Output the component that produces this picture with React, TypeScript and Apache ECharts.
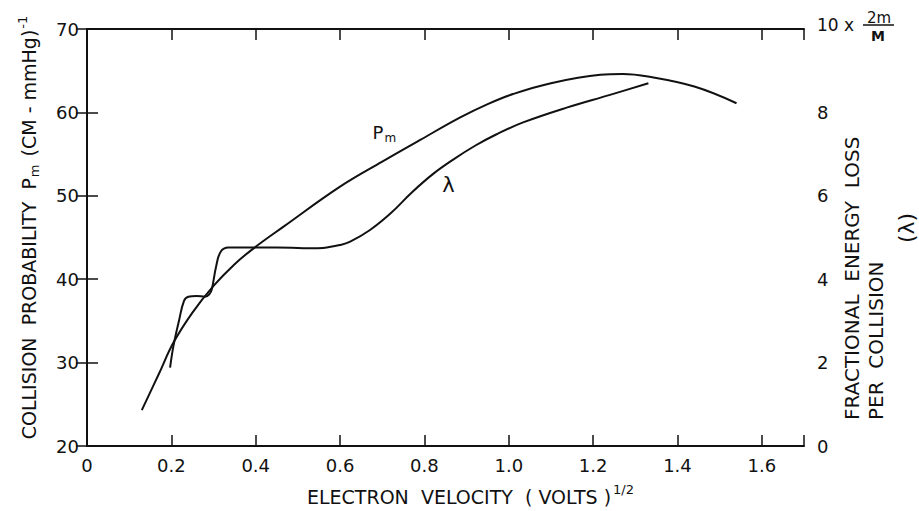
import React, { useEffect, useRef } from "react";
import * as echarts from "echarts";

// x ticks (electron velocity, volts^1/2)
const xTicks = [0, 0.2, 0.4, 0.6, 0.8, 1.0, 1.2, 1.4, 1.6];
// left axis ticks (collision probability)
const leftTicks = [20, 30, 40, 50, 60, 70];
// right axis ticks (fractional energy loss, units of 2m/M)
const rightTicks = [0, 2, 4, 6, 8, 10];

// P_m curve
const pmX = [0.13, 0.17, 0.205, 0.25, 0.3, 0.35, 0.395, 0.466, 0.6, 0.7, 0.79, 0.885, 0.95, 1.01, 1.1, 1.217, 1.27, 1.33, 1.44, 1.54];
const pmY = [24.3, 28.6, 32.4, 36.0, 39.2, 41.8, 43.7, 46.3, 51.1, 54.1, 56.7, 59.4, 61.0, 62.2, 63.5, 64.5, 64.6, 64.3, 63.1, 61.1];

// lambda curve (right axis)
const lamX = [0.197, 0.205, 0.218, 0.23, 0.24, 0.26, 0.28, 0.29, 0.296, 0.306, 0.317, 0.335, 0.4, 0.45, 0.5, 0.53, 0.56, 0.6, 0.624, 0.671, 0.72, 0.77, 0.82, 0.87, 0.92, 0.97, 1.034, 1.139, 1.24, 1.331];
const lamY = [1.88, 2.4, 3.0, 3.48, 3.58, 3.6, 3.58, 3.64, 3.76, 4.3, 4.66, 4.76, 4.76, 4.76, 4.75, 4.74, 4.75, 4.82, 4.9, 5.18, 5.58, 6.08, 6.52, 6.88, 7.2, 7.47, 7.76, 8.12, 8.42, 8.7];

// curve label anchors (data coords)
const pmLabelAt = [0.705, 57.6];
const lamLabelAt = [0.857, 51.3];

const FONT = "DejaVu Sans";
const INK = "#111";
const W = 919;
const H = 511;
const GRID = { left: 87, right: 115, top: 29, bottom: 61 };

export default function App() {
  const ref = useRef<HTMLDivElement>(null);
  useEffect(() => {
    document.body.style.margin = "0";
    const chart = echarts.init(ref.current as HTMLDivElement, null, { renderer: "svg", width: W, height: H });
    const isTick = (v: number, arr: number[]) => arr.some((t) => Math.abs(t - v) < 1e-6);
    const axisLine = { show: true, lineStyle: { color: INK, width: 2 } };
    const tick = { show: true, inside: true, length: 11, lineStyle: { color: INK, width: 1.5 } };
    const labelBase = { color: INK, fontFamily: FONT, fontSize: 18 };
    const option: any = {
      animation: false,
      backgroundColor: "#fff",
      grid: { ...GRID, containLabel: false },
      xAxis: [
        {
          type: "value", min: 0, max: 1.7, interval: 0.2, position: "bottom",
          axisLine, axisTick: tick, splitLine: { show: false },
          axisLabel: {
            ...labelBase, margin: 10,
            formatter: (v: number) => (isTick(v, xTicks) ? (v === 0 ? "0" : v.toFixed(1)) : ""),
          },
          name: "{t|ELECTRON  VELOCITY  ( VOLTS )}{sup|1/2}",
          nameLocation: "middle", nameGap: 37,
          nameTextStyle: {
            color: INK, fontFamily: FONT, padding: [0, 0, 0, 50],
            rich: {
              t: { fontSize: 19, fontFamily: FONT, color: INK },
              sup: { fontSize: 13, fontFamily: FONT, color: INK, padding: [0, 0, 14, 2] },
            },
          },
        },
        {
          type: "value", min: 0, max: 1.7, interval: 0.2, position: "top",
          axisLine, axisTick: tick, splitLine: { show: false }, axisLabel: { show: false },
        },
      ],
      yAxis: [
        {
          type: "value", min: 20, max: 70, interval: 10, position: "left",
          axisLine, axisTick: tick, splitLine: { show: false },
          axisLabel: { ...labelBase, margin: 8, formatter: (v: number) => (isTick(v, leftTicks) ? String(v) : "") },
          name: "{t|COLLISION  PROBABILITY  P}{sub|m}{t| (CM - mmHg)}{sup|-1}",
          nameLocation: "middle", nameGap: 45,
          nameTextStyle: {
            color: INK, fontFamily: FONT, padding: [0, 0, 0, 20],
            rich: {
              t: { fontSize: 19, fontFamily: FONT, color: INK },
              sub: { fontSize: 13, fontFamily: FONT, color: INK, padding: [11, 2, 0, 1] },
              sup: { fontSize: 13, fontFamily: FONT, color: INK, padding: [0, 0, 13, 1] },
            },
          },
        },
        {
          type: "value", min: 0, max: 10, interval: 2, position: "right",
          axisLine, axisTick: tick, splitLine: { show: false },
          axisLabel: {
            ...labelBase, margin: 13,
            formatter: (v: number) => (v === 10 ? "{a|10 x}" : isTick(v, rightTicks) ? String(v) : ""),
            rich: { a: { fontSize: 17, fontFamily: FONT, color: INK, padding: [0, 0, 8, 0] } },
          },
        },
      ],
      series: [
        {
          name: "Pm", type: "line", xAxisIndex: 0, yAxisIndex: 0,
          data: pmX.map((x, i) => [x, pmY[i]]),
          showSymbol: false, smooth: 0.4,
          lineStyle: { color: INK, width: 2 },
        },
        {
          name: "lambda", type: "line", xAxisIndex: 0, yAxisIndex: 1,
          data: lamX.map((x, i) => [x, lamY[i]]),
          showSymbol: false, smooth: 0.4,
          lineStyle: { color: INK, width: 2 },
        },
      ],
    };
    chart.setOption(option);

    const pPm = chart.convertToPixel({ xAxisIndex: 0, yAxisIndex: 0 }, pmLabelAt) as number[];
    const pLam = chart.convertToPixel({ xAxisIndex: 0, yAxisIndex: 0 }, lamLabelAt) as number[];
    const rightX = W - GRID.right;
    const topY = GRID.top;
    const txt = (extra: any) => ({ type: "text", silent: true, ...extra });
    chart.setOption({
      graphic: [
        txt({
          x: pPm[0], y: pPm[1],
          style: {
            text: "{p|P}{s|m}", align: "center", verticalAlign: "middle", fill: INK,
            rich: {
              p: { fontSize: 18, fontFamily: FONT, fill: INK },
              s: { fontSize: 12, fontFamily: FONT, fill: INK, padding: [12, 0, 0, 1] },
            },
          },
        }),
        txt({
          x: pLam[0], y: pLam[1],
          style: { text: "λ", fontSize: 21, fontFamily: FONT, fill: INK, align: "center", verticalAlign: "middle" },
        }),
        // fraction 2m / M next to the top right tick label
        txt({
          x: rightX + 75, y: topY - 11,
          style: { text: "2m", fontSize: 15, fontFamily: FONT, fill: INK, align: "center", verticalAlign: "middle" },
        }),
        {
          type: "line", silent: true,
          shape: { x1: rightX + 59, y1: topY - 4, x2: rightX + 90, y2: topY - 4 },
          style: { stroke: INK, lineWidth: 1.5 },
        },
        txt({
          x: rightX + 74, y: topY + 7,
          style: { text: "M", fontSize: 14, fontFamily: FONT, fontWeight: "bold", fill: INK, align: "center", verticalAlign: "middle" },
        }),
        // right axis title
        txt({
          x: rightX + 60, y: 420, rotation: Math.PI / 2,
          style: {
            text: "FRACTIONAL  ENERGY  LOSS\nPER  COLLISION",
            fontSize: 20, fontFamily: FONT, fill: INK, lineHeight: 24,
            align: "left", verticalAlign: "middle",
          },
        }),
        txt({
          x: rightX + 102, y: 228, rotation: Math.PI / 2,
          style: { text: "(λ)", fontSize: 22, fontFamily: FONT, fill: INK, align: "center", verticalAlign: "middle" },
        }),
      ],
    });
    return () => chart.dispose();
  }, []);
  return <div ref={ref} style={{ position: "absolute", left: 0, top: 0, width: W, height: H }} />;
}
